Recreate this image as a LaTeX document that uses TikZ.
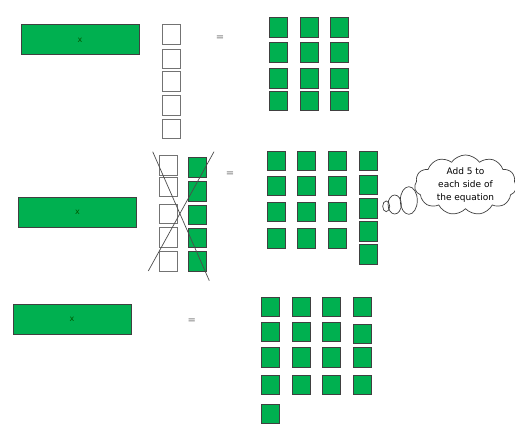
\documentclass[tikz,border=0pt]{standalone}
\usepackage{fontspec}
\setmainfont{DejaVu Sans}
\usetikzlibrary{shapes}
\usetikzlibrary{shapes.symbols}
\usetikzlibrary{positioning}
\definecolor{unitgreen}{RGB}{0,176,80}
\tikzset{
    bar/.style = {rectangle, line width=1pt, draw=black!75, fill=unitgreen, minimum width=118pt, minimum height=30pt, inner sep=0pt, font=\fontsize{8}{9}\selectfont, text=black!65!green},
    unit/.style = {rectangle, line width=1pt, draw=black!75, fill=unitgreen, minimum width=18pt, minimum height=19.5pt, inner sep=0pt},
    blank/.style = {rectangle, line width=1pt, draw=black!55, fill=white, minimum width=18pt, minimum height=19.5pt, inner sep=0pt},
    eqsign/.style = {inner sep=0pt, text=black!55, font=\fontsize{10}{11}\selectfont},
    crossline/.style = {-, line width=0.7pt, black!70},
    bubble/.style = {ellipse, line width=0.7pt, draw=black!75, inner sep=0pt},
    thought/.style = {cloud, cloud puffs=11, cloud puff arc=110, aspect=1.8, line width=0.7pt, draw=black!75, fill=white, inner sep=0pt, align=center, font=\fontsize{9}{13}\selectfont}
}
\begin{document}
\begin{tikzpicture}[x=1pt,y=-1pt]
\path[use as bounding box] (0,0) rectangle (515,436);
% first line
\node[bar] at (80,40) (bar1) {x};
\foreach \y [count=\i] in {34.7,59.2,81.3,105.3,129.2}
    \node[blank] at (171.5,\y) (w1-\i) {};
\node[eqsign] at (220,38) (eq1) {=};
\foreach \x [count=\i] in {278.3,309,339.7}
    \foreach \y [count=\j] in {27.7,52.7,78.5,100.8}
        \node[unit] at (\x,\y) (g1-\i-\j) {};
%
% second line
\node[bar] at (77.5,212.7) (bar2) {x};
\foreach \y [count=\i] in {165.3,187,214.2,237.5,261.3}
    \node[blank] at (168.8,\y) (w2-\i) {};
\foreach \y [count=\i] in {167.7,191.7,214.8,238,261.7}
    \node[unit] at (197.3,\y) (p2-\i) {};
\coordinate (ca) at (152.7,151.7);
\coordinate (cb) at (209.3,280.7);
\coordinate (cc) at (214,151.7);
\coordinate (cd) at (148.3,271);
\draw[crossline] (ca) -- (cb);
\draw[crossline] (cc) -- (cd);
\node[eqsign] at (230,174.3) (eq2) {=};
\foreach \x [count=\i] in {276.2,306.7,337.3}
    \foreach \y [count=\j] in {160.8,185.8,211.8,238.7}
        \node[unit] at (\x,\y) (g2-\i-\j) {};
\foreach \y [count=\j] in {160.8,185,208.3,231.5,254.7}
    \node[unit] at (368.3,\y) (g2-4-\j) {};
%
\node[bubble, minimum width=7pt, minimum height=10.7pt] at (386.2,206.3) (t1) {};
\node[bubble, minimum width=13.3pt, minimum height=19pt] at (394.7,204.5) (t2) {};
\node[bubble, minimum width=17pt, minimum height=27.6pt] at (408.8,200.5) (t3) {};
\node[thought, minimum width=102pt, minimum height=57pt] at (465.5,185) (note) {Add 5 to\\each side of\\the equation};
%
% third line
\node[bar] at (72,319) (bar3) {x};
\node[eqsign] at (191.7,321.7) (eq3) {=};
\foreach \x [count=\i] in {270.5,301.2,331.8}
    \foreach \y [count=\j] in {306.8,331.8,357.5,385}
        \node[unit] at (\x,\y) (g3-\i-\j) {};
\foreach \y [count=\j] in {306.8,334.2,357.5,385}
    \node[unit] at (362.8,\y) (g3-4-\j) {};
\node[unit] at (270.5,413.8) (g3-1-5) {};
\end{tikzpicture}
\end{document}
